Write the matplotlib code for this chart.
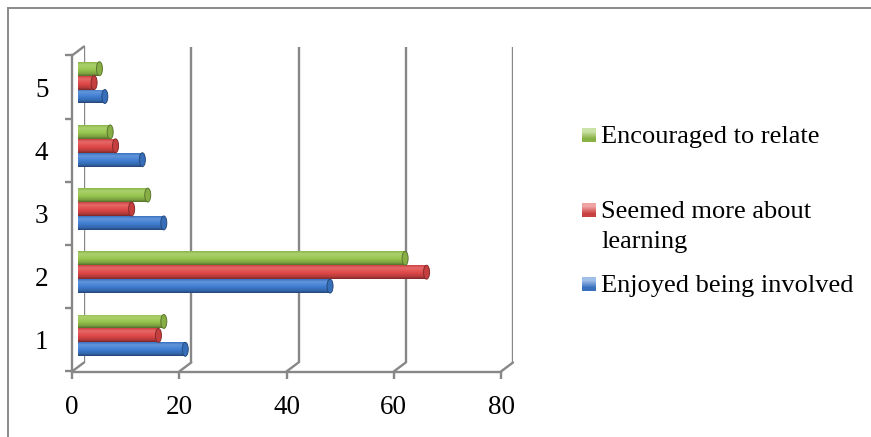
import numpy as np
import matplotlib.pyplot as plt
from matplotlib.patches import Ellipse, ConnectionPatch
from matplotlib.lines import Line2D
from matplotlib.colors import to_rgb

categories = [1, 2, 3, 4, 5]
enjoyed = [20, 47, 16, 12, 5]
seemed = [15, 65, 10, 7, 3]
encouraged = [16, 61, 13, 6, 4]
series_labels = ['Enjoyed being involved', 'Seemed more about\nlearning', 'Encouraged to relate']
x_ticks = [0, 20, 40, 60, 80]

colors = ['#3f7dd2', '#e04848', '#98c64e']
grid = '#878787'
serif = ['Liberation Serif', 'DejaVu Serif']

W, H = 871, 437
fig = plt.figure(figsize=(W / 100, H / 100), dpi=100)


def px_axes(left, top, right, bottom):
    ax = fig.add_axes([left / W, 1 - bottom / H, (right - left) / W, (bottom - top) / H])
    ax.set_xlim(0, 80)
    ax.set_ylim(0.5, 5.5)
    ax.patch.set_visible(False)
    return ax


# three planes of the fake 3D box: back wall, bar plane, front axis
back = px_axes(84, 46.5, 513, 362.5)
mid = px_axes(78, 51, 507, 367)
front = px_axes(72, 55.5, 501, 371.5)

for x in x_ticks:
    back.axvline(x, color=grid, lw=1.7)
back.axis('off')


def cyl_colors(base, n=48):
    b = np.array(to_rgb(base))
    t = np.linspace(0, 1, n)
    stops_t = [0, 0.15, 0.45, 0.8, 1.0]
    stops_c = [b * 0.55, b * 0.8, b, b + (1 - b) * 0.18, b * 0.92]
    out = np.array([np.interp(t, stops_t, [c[i] for c in stops_c]) for i in range(3)]).T
    return out[:, None, :]


h = 0.22
offsets = [-h, 0, h]
px_per_unit = mid.bbox.width / 80
cap_w = 6 / px_per_unit

for vals, off, col in zip([enjoyed, seemed, encouraged], offsets, colors):
    bars = mid.barh(np.array(categories) + off, vals, height=h, color=col, zorder=2)
    grad = cyl_colors(col)
    base = np.array(to_rgb(col))
    for p in bars:
        x0, y0, w, hh = p.get_x(), p.get_y(), p.get_width(), p.get_height()
        im = mid.imshow(grad, extent=[x0, x0 + w, y0, y0 + hh], origin='lower',
                        aspect='auto', interpolation='bilinear', zorder=3)
        im.set_clip_path(p)
        mid.add_patch(Ellipse((x0 + w, y0 + hh / 2), cap_w, hh, facecolor=base * 0.88,
                              edgecolor=base * 0.6, lw=0.7, zorder=4))
mid.set_xlim(0, 80)
mid.set_ylim(0.5, 5.5)
mid.axis('off')

# front axis
for s in ['top', 'right']:
    front.spines[s].set_visible(False)
for s in ['left', 'bottom']:
    front.spines[s].set_color(grid)
    front.spines[s].set_linewidth(1.7)
front.set_xticks(x_ticks)
front.set_xticklabels([str(v) for v in x_ticks], fontfamily=serif, fontsize=19.5)
front.set_yticks(np.arange(0.5, 6, 1))
front.set_yticklabels([])
front.set_yticks(categories, minor=True)
front.set_yticklabels([str(c) for c in categories], minor=True, fontfamily=serif, fontsize=19.5)
front.tick_params(axis='both', which='major', direction='out', length=5, width=1.7, color=grid)
front.tick_params(axis='x', pad=12)
front.tick_params(axis='y', which='minor', length=0, pad=17)

# diagonal edges joining front axis to back wall
for x, y in [(x, 0.5) for x in x_ticks] + [(0, 5.5)]:
    fig.add_artist(ConnectionPatch((x, y), (x, y), coordsA=front.transData,
                                   coordsB=back.transData, color=grid, lw=1.7))

# legend
leg_items = [(series_labels[2], colors[2], 143),
             (series_labels[1], colors[1], 218),
             (series_labels[0], colors[0], 292)]
for label, col, base_y in leg_items:
    b = np.array(to_rgb(col))
    sq = fig.add_axes([582 / W, 1 - (base_y - 1) / H, 14 / W, 14 / H])
    sq_grad = np.array([b + (1 - b) * 0.5, b * 0.9])[:, None, :]
    sq.imshow(sq_grad, aspect='auto', interpolation='bilinear')
    sq.axis('off')
    lines = label.split('\n')
    for i, line in enumerate(lines):
        fig.text(601 / W, 1 - (base_y + 30 * i) / H, line, fontfamily=serif,
                 fontsize=19, va='baseline', ha='left')

# chart border (top and left edges)
fig.add_artist(Line2D([8 / W, 1], [1 - 8 / H, 1 - 8 / H], color='#8a8a8a', lw=1.4))
fig.add_artist(Line2D([8 / W, 8 / W], [0, 1 - 8 / H], color='#8a8a8a', lw=1.4))

fig.savefig('out.png', dpi=100)
